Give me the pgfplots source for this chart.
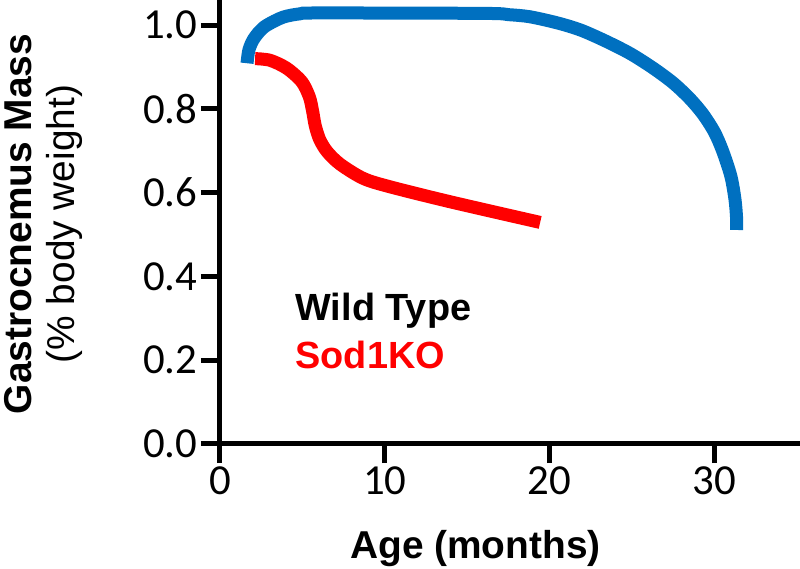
\documentclass[border=0pt]{standalone}
\usepackage{fontspec}
\setmainfont{Liberation Sans}
\newfontfamily\tickfont{Carlito}
\usepackage{pgfplots}
\pgfplotsset{compat=1.18}
\definecolor{wtblue}{RGB}{0,112,192}
\definecolor{koreds}{RGB}{255,0,0}
\begin{document}
\begin{tikzpicture}[x=1bp,y=1bp]
\path[use as bounding box] (-220,-125) rectangle (580,444);
\begin{axis}[
  at={(0,0)}, anchor=south west,
  width=580bp, height=444bp, scale only axis,
  xmin=0, xmax=35.2, ymin=0, ymax=1.06,
  axis x line*=bottom, axis y line*=left,
  axis line style={-, line width=5bp, black},
  xtick={0,10,20,30}, ytick={0,0.2,0.4,0.6,0.8,1.0},
  tick align=outside, major tick length=19bp,
  tick style={line width=5bp, black},
  ticklabel style={font=\tickfont\fontsize{43}{43}\selectfont},
  /pgf/number format/assume math mode=true,
  yticklabel style={/pgf/number format/.cd, fixed, fixed zerofill, precision=1},
  clip=false,
]
\addplot[wtblue, line width=13bp, line cap=butt, line join=round, smooth, tension=0.5] coordinates {
(1.64,0.909) (1.75,0.940) (2.0,0.964) (2.4,0.985) (2.85,1.000) (3.83,1.019) (4.86,1.027) (6,1.029)
(16,1.028) (17.5,1.025) (18.8,1.020) (20.5,1.005) (21.9,0.988) (23.4,0.962) (24.9,0.932)
(26.3,0.897) (27.5,0.862) (28.5,0.825) (29.3,0.788) (30,0.745) (30.5,0.700) (31.0,0.640)
(31.25,0.585) (31.35,0.540) (31.35,0.511)
};
\addplot[koreds, line width=13bp, line cap=butt, line join=round, smooth, tension=0.5] coordinates {
(2.13,0.920) (3.04,0.916) (4.05,0.897) (4.96,0.865) (5.42,0.829) (5.62,0.795) (5.78,0.760)
(6.05,0.727) (6.5,0.698) (7.29,0.668) (8.70,0.634) (10.32,0.614) (14.0,0.578) (19.43,0.529)
};
\node[anchor=base west, font=\fontsize{38}{38}\selectfont\bfseries, text=black] at (axis cs:4.37,0.296) {Wild Type};
\node[anchor=base west, font=\fontsize{38}{38}\selectfont\bfseries, text=koreds] at (axis cs:4.37,0.181) {Sod1KO};
\node[anchor=base, font=\fontsize{39}{39}\selectfont\bfseries, yshift=-114bp] at (axis cs:15.5,0) {Age (months)};
\node[anchor=base, rotate=90, font=\fontsize{39}{39}\selectfont\bfseries] at (axis cs:-11.41,0.525) {Gastrocnemus Mass};
\node[anchor=base, rotate=90, font=\fontsize{39}{39}\selectfont] at (axis cs:-8.80,0.525) {(\% body weight)};
\end{axis}
\end{tikzpicture}
\end{document}
